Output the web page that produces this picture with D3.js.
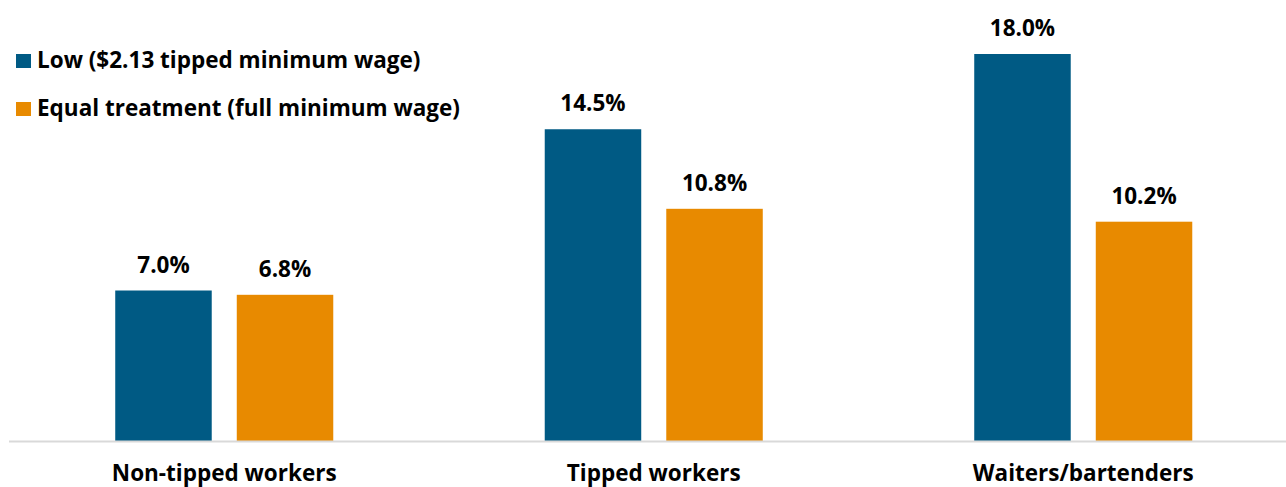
<!DOCTYPE html>
<meta charset="utf-8">
<title>Tipped wage poverty</title>
<style>
body { margin: 0; background: #fff; }
text { font-family: "Open Sans", Lato, sans-serif; font-weight: bold; fill: #000; }
</style>
<body>
<script src="https://cdn.jsdelivr.net/npm/d3@7"></script>
<script>
var categories = ["Non-tipped workers", "Tipped workers", "Waiters/bartenders"];
var seriesNames = ["Low ($2.13 tipped minimum wage)", "Equal treatment (full minimum wage)"];
var lowValues = [7.0, 14.5, 18.0];
var equalValues = [6.8, 10.8, 10.2];
var colors = ["#005a84", "#e88a00"];

var w = 1286, h = 487;

var svg = d3.select("body").append("svg")
    .attr("width", w)
    .attr("height", h);

var x0 = d3.scaleBand()
    .domain(categories)
    .range([9.5, 1298])
    .padding(0);

var x1 = d3.scaleBand()
    .domain(seriesNames)
    .range([0, x0.bandwidth()])
    .paddingInner(0.206)
    .paddingOuter(0.87);

var y = d3.scaleLinear()
    .domain([0, 18])
    .range([441, 54]);

var rows = categories.map(function(c, i) {
  return [
    {cat: c, s: seriesNames[0], v: lowValues[i], col: colors[0]},
    {cat: c, s: seriesNames[1], v: equalValues[i], col: colors[1]}
  ];
});

var groups = svg.selectAll("g.grp")
    .data(rows)
  .enter().append("g")
    .attr("class", "grp")
    .attr("transform", function(d, i) { return "translate(" + x0(categories[i]) + ",0)"; });

groups.selectAll("rect")
    .data(function(d) { return d; })
  .enter().append("rect")
    .attr("x", function(d) { return x1(d.s); })
    .attr("width", x1.bandwidth())
    .attr("y", function(d) { return y(d.v); })
    .attr("height", function(d) { return y(0) - y(d.v); })
    .style("fill", function(d) { return d.col; });

groups.selectAll("text.val")
    .data(function(d) { return d; })
  .enter().append("text")
    .attr("class", "val")
    .attr("x", function(d) { return x1(d.s) + x1.bandwidth() / 2; })
    .attr("y", function(d) { return y(d.v) - 18; })
    .attr("text-anchor", "middle")
    .style("font-size", "22.5px")
    .text(function(d) { return d.v.toFixed(1) + "%"; });

// baseline
svg.append("line")
    .attr("x1", 9)
    .attr("x2", w)
    .attr("y1", y(0) + 0.5)
    .attr("y2", y(0) + 0.5)
    .style("stroke", "#d9d9d9")
    .style("stroke-width", 2);

// category labels
svg.selectAll("text.cat")
    .data(categories)
  .enter().append("text")
    .attr("class", "cat")
    .attr("x", function(d) { return x0(d) + x0.bandwidth() / 2; })
    .attr("y", 481)
    .attr("text-anchor", "middle")
    .style("font-size", "22.5px")
    .text(function(d) { return d; });

// legend
var legend = svg.selectAll("g.leg")
    .data(seriesNames)
  .enter().append("g")
    .attr("class", "leg")
    .attr("transform", function(d, i) { return "translate(16," + (54 + i * 48) + ")"; });

legend.append("rect")
    .attr("width", 15)
    .attr("height", 14)
    .style("fill", function(d, i) { return colors[i]; });

legend.append("text")
    .attr("x", 21)
    .attr("y", 14)
    .style("font-size", "22.5px")
    .text(function(d) { return d; });
</script>
